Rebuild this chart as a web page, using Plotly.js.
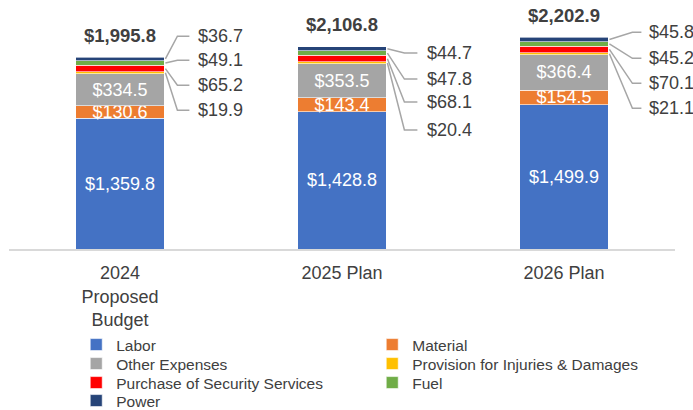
<!DOCTYPE html>
<html>
<head>
<meta charset="utf-8">
<script src="https://cdn.plot.ly/plotly-3.0.1.min.js"></script>
<style>html,body{margin:0;padding:0;background:#fff;}#chart{width:693px;height:410px;}</style>
</head>
<body>
<div id="chart"></div>
<script>
// ---- data ----
const categories = ['2024<br>Proposed<br>Budget', '2025 Plan', '2026 Plan'];
const labor = [1359.8, 1428.8, 1499.9];
const material = [130.6, 143.4, 154.5];
const otherExpenses = [334.5, 353.5, 366.4];
const provision = [19.9, 20.4, 21.1];
const security = [65.2, 68.1, 70.1];
const fuel = [49.1, 47.8, 45.2];
const power = [36.7, 44.7, 45.8];
const totals = [1995.8, 2106.8, 2202.9];

// ---- layout constants ----
const W = 693, H = 410;
const M = {l: 9, r: 18, t: 10, b: 161};
const yMax = 2487;
const pxPerUnit = (H - M.t - M.b) / yMax;
const barHalf = 0.2;
const FONT = 'Liberation Sans, Arial, sans-serif';
const TXT = '#404040';

const series = [
  {name: 'Labor', y: labor, color: '#4472C4', inside: true, legend: 'legend'},
  {name: 'Material', y: material, color: '#ED7D31', inside: true, legend: 'legend'},
  {name: 'Other Expenses', y: otherExpenses, color: '#A5A5A5', inside: true, legend: 'legend2'},
  {name: 'Provision for Injuries & Damages', y: provision, color: '#FFC000', legend: 'legend2'},
  {name: 'Purchase of Security Services', y: security, color: '#FF0000', legend: 'legend3'},
  {name: 'Fuel', y: fuel, color: '#70AD47', legend: 'legend3'},
  {name: 'Power', y: power, color: '#264478', legend: 'legend4'}
];

const traces = series.map(s => ({
  type: 'bar', name: s.name, x: categories, y: s.y, legend: s.legend,
  marker: {color: s.color, line: {color: '#ffffff', width: 0.6}},
  texttemplate: s.inside ? '$%{y:,.1f}' : '',
  textposition: s.inside ? 'inside' : 'none',
  insidetextanchor: 'middle',
  constraintext: 'none',
  textangle: 0,
  insidetextfont: {family: FONT, size: 18, color: '#ffffff'},
  hoverinfo: 'name+y'
}));

// cumulative bases
const n = categories.length;
const bases = series.map(() => new Array(n).fill(0));
const sums = new Array(n).fill(0);
series.forEach((s, k) => {
  for (let i = 0; i < n; i++) { bases[k][i] = sums[i]; sums[i] += s.y[i]; }
});

// leader-label geometry (pixels) per bar: label rows relative to bar top, from top row down
const leader = [
  {rows: [-21, 3, 28, 53], diag: 13, horiz: 25, text: 32},
  {rows: [6.5, 32.5, 55.5, 83.5], diag: 18, horiz: 31, text: 39},
  {rows: [-5, 21, 46, 71], diag: 24, horiz: 33, text: 39}
];
const outsideOrder = [6, 5, 4, 3]; // Power, Fuel, Security, Provision

const annotations = [];
const shapes = [];
for (let i = 0; i < n; i++) {
  annotations.push({
    x: i, y: sums[i], xref: 'x', yref: 'y', yshift: 22, showarrow: false,
    text: '$' + totals[i].toLocaleString('en-US', {minimumFractionDigits: 1, maximumFractionDigits: 1}),
    font: {family: FONT, size: 18.5, color: TXT, weight: 'bold'},
    xanchor: 'center', yanchor: 'middle'
  });
  const g = leader[i];
  outsideOrder.forEach((k, r) => {
    const v = series[k].y[i];
    const mid = bases[k][i] + v / 2;
    const dy = (sums[i] - mid) * pxPerUnit - g.rows[r];
    annotations.push({
      x: i + barHalf, y: mid, xref: 'x', yref: 'y', xshift: g.text, yshift: dy,
      showarrow: false, text: '$' + v.toFixed(1),
      font: {family: FONT, size: 18, color: TXT},
      xanchor: 'left', yanchor: 'middle'
    });
    shapes.push({
      type: 'path', xref: 'x', yref: 'y', xsizemode: 'pixel', ysizemode: 'pixel',
      xanchor: i + barHalf, yanchor: mid,
      path: `M1,0 L${g.diag},${dy} L${g.horiz},${dy}`,
      line: {color: '#A6A6A6', width: 1.5}, layer: 'above'
    });
  });
}

// legend rows (pixel centre y from top)
const legendRowsY = [345, 364, 383, 401];
function legendRow(yPx) {
  return {
    orientation: 'h', traceorder: 'normal',
    xref: 'container', yref: 'container', x: 0.11, y: 1 - yPx / H,
    xanchor: 'left', yanchor: 'middle',
    entrywidth: 251, entrywidthmode: 'pixels', bgcolor: 'rgba(0,0,0,0)',
    font: {family: FONT, size: 15.5, color: TXT}
  };
}

const layout = {
  width: W, height: H, margin: M,
  paper_bgcolor: '#ffffff', plot_bgcolor: '#ffffff',
  barmode: 'stack', bargap: 0.6,
  font: {family: FONT, color: TXT},
  xaxis: {
    type: 'category', range: [-0.5, 2.5], showgrid: false, zeroline: false,
    showline: true, linecolor: '#D9D9D9', linewidth: 1.5, ticks: '',
    ticklabelstandoff: 7,
    tickfont: {family: FONT, size: 18, color: TXT}
  },
  yaxis: {range: [0, yMax], visible: false, showgrid: false, zeroline: false},
  showlegend: true,
  legend: legendRow(legendRowsY[0]),
  legend2: legendRow(legendRowsY[1]),
  legend3: legendRow(legendRowsY[2]),
  legend4: legendRow(legendRowsY[3]),
  annotations: annotations, shapes: shapes
};

Plotly.newPlot('chart', traces, layout, {displayModeBar: false, staticPlot: true});
</script>
</body>
</html>
